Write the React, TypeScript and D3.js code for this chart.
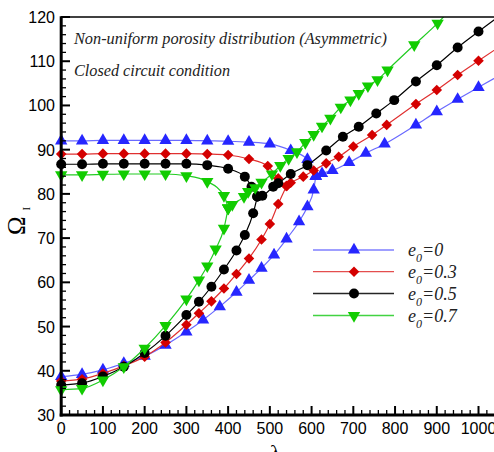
import React from "react";
import * as d3 from "d3";

// ---------- data ----------
const blueUpperL = [0, 50, 100, 150, 200, 250, 300, 350, 400, 450, 500, 550, 590, 610];
const blueUpperO = [92.0, 92.0, 92.1, 92.1, 92.1, 92.1, 92.1, 92.0, 91.9, 91.7, 91.3, 89.8, 87.8, 84.0];
const blueLowerL = [0, 50, 100, 150, 200, 250, 300, 340, 380, 420, 450, 480, 510, 540, 570, 590, 605, 610];
const blueLowerO = [38.7, 39.2, 40.2, 41.7, 43.3, 45.8, 48.8, 51.5, 54.5, 57.8, 60.5, 63.2, 66.2, 69.8, 73.7, 77.1, 80.9, 84.0];
const blueTailL = [610, 625, 650, 690, 730, 775, 850, 900, 950, 1000, 1060];
const blueTailO = [84.0, 84.6, 85.3, 87.1, 89.2, 91.3, 95.6, 98.6, 101.4, 104.1, 107.3];

const redUpperL = [0, 50, 100, 150, 200, 250, 300, 350, 400, 450, 495, 520, 540];
const redUpperO = [89.0, 89.0, 89.1, 89.1, 89.1, 89.1, 89.1, 89.0, 88.8, 87.9, 86.3, 83.5, 81.8];
const redLowerL = [0, 50, 100, 150, 200, 250, 300, 330, 360, 390, 420, 450, 480, 500, 520, 540];
const redLowerO = [37.7, 38.1, 39.4, 41.1, 43.2, 46.4, 50.4, 53.0, 55.7, 58.6, 61.9, 65.4, 69.7, 73.2, 77.7, 81.8];
const redTailL = [540, 550, 580, 605, 635, 665, 700, 745, 780, 850, 900, 950, 1000, 1060];
const redTailO = [81.8, 82.5, 83.9, 85.3, 86.9, 88.4, 90.7, 93.3, 95.6, 100.3, 103.5, 106.9, 110.1, 113.9];

const blackUpperL = [0, 50, 100, 150, 200, 250, 300, 350, 400, 440, 456, 470];
const blackUpperO = [86.7, 86.7, 86.8, 86.8, 86.8, 86.8, 86.8, 86.5, 85.7, 83.9, 81.6, 79.4];
const blackLowerL = [0, 50, 100, 150, 200, 250, 300, 330, 360, 390, 420, 440, 460, 470];
const blackLowerO = [36.8, 37.2, 38.7, 40.9, 44.0, 47.9, 52.6, 55.6, 59.0, 62.9, 67.2, 70.7, 75.6, 79.4];
const blackTailL = [470, 482, 508, 520, 550, 590, 635, 675, 713, 755, 798, 850, 900, 950, 1000, 1060];
const blackTailO = [79.4, 79.6, 81.6, 82.4, 84.5, 86.5, 89.8, 92.9, 95.2, 98.2, 101.2, 105.4, 109.1, 113.1, 116.7, 120.9];

const greenUpperL = [0, 50, 100, 150, 200, 250, 300, 350, 390, 400];
const greenUpperO = [84.3, 84.3, 84.4, 84.5, 84.5, 84.5, 84.1, 82.8, 79.6, 76.8];
const greenLowerL = [0, 50, 100, 150, 200, 250, 300, 330, 350, 370, 390, 400];
const greenLowerO = [35.7, 36.0, 37.9, 40.9, 45.1, 50.2, 56.2, 60.5, 63.7, 67.5, 72.2, 76.8];
const greenTailL = [400, 410, 438, 448, 465, 480, 505, 525, 545, 565, 585, 605, 625, 645, 670, 693, 713, 735, 758, 782, 846, 902, 940];
const greenTailO = [76.8, 77.6, 79.4, 80.5, 81.4, 82.6, 84.5, 86.4, 88.0, 89.5, 91.6, 93.4, 95.3, 97.1, 99.6, 101.2, 102.7, 104.4, 105.8, 108.0, 113.7, 118.6, 122.5];

const seriesLabels = ["0", "0.3", "0.5", "0.7"];
const xTicks = [0, 100, 200, 300, 400, 500, 600, 700, 800, 900, 1000];
const yTicks = [30, 40, 50, 60, 70, 80, 90, 100, 110, 120];

// ---------- styling ----------
const W = 494;
const H = 452;
const x = d3.scaleLinear().domain([0, 1040]).range([61.2, 495.2]);
const y = d3.scaleLinear().domain([30, 120]).range([415, 17]);

type Series = {
  branches: [number[], number[]][];
  line: string;
  fill: string;
  symbol: d3.SymbolType;
  size: number;
  rotate: number;
  label: string;
};

const series: Series[] = [
  {
    branches: [[blueUpperL, blueUpperO], [blueLowerL, blueLowerO], [blueTailL, blueTailO]],
    line: "#6a6aff", fill: "#2626ff", symbol: d3.symbolTriangle, size: 66, rotate: 0, label: seriesLabels[0],
  },
  {
    branches: [[redUpperL, redUpperO], [redLowerL, redLowerO], [redTailL, redTailO]],
    line: "#e03030", fill: "#d40000", symbol: d3.symbolSquare, size: 56, rotate: 45, label: seriesLabels[1],
  },
  {
    branches: [[blackUpperL, blackUpperO], [blackLowerL, blackLowerO], [blackTailL, blackTailO]],
    line: "#000000", fill: "#000000", symbol: d3.symbolCircle, size: 78, rotate: 0, label: seriesLabels[2],
  },
  {
    branches: [[greenUpperL, greenUpperO], [greenLowerL, greenLowerO], [greenTailL, greenTailO]],
    line: "#22cc22", fill: "#11cc00", symbol: d3.symbolTriangle, size: 66, rotate: 180, label: seriesLabels[3],
  },
];

const lineGen = d3
  .line<[number, number]>()
  .x((d) => x(d[0]))
  .y((d) => y(d[1]))
  .curve(d3.curveMonotoneX);

export default function App() {
  const xMinor = d3.range(0, 1041, 20);
  const yMinor = d3.range(30, 121, 2);
  const legendY = [250, 271.7, 293.5, 315.5];

  return (
    <svg width={W} height={H} style={{ position: "absolute", left: 0, top: 0, background: "#fff" }}>
      <defs>
        <clipPath id="plotClip">
          <rect x={0} y={17} width={495.2} height={440} />
        </clipPath>
      </defs>
      <rect x={0} y={0} width={W} height={H} fill="#fff" />

      {/* data */}
      <g clipPath="url(#plotClip)">
        {series.map((s, si) => (
          <g key={si}>
            {s.branches.map(([ls, os], bi) => {
              const pts: [number, number][] = ls.map((l, i) => [l, os[i]]);
              return (
                <g key={bi}>
                  <path d={lineGen(pts) || ""} fill="none" stroke={s.line} strokeWidth={1.2} />
                  {pts.map((p, i) => (
                    <path
                      key={i}
                      d={d3.symbol().type(s.symbol).size(s.size)() || ""}
                      transform={`translate(${x(p[0])},${y(p[1])}) rotate(${s.rotate})`}
                      fill={s.fill}
                    />
                  ))}
                </g>
              );
            })}
          </g>
        ))}
      </g>

      {/* frame */}
      <line x1={61.2} x2={W} y1={17} y2={17} stroke="#000" strokeWidth={1.5} />
      <line x1={61.2} x2={61.2} y1={16.3} y2={416.5} stroke="#000" strokeWidth={3} />
      <line x1={59.7} x2={W} y1={415} y2={415} stroke="#000" strokeWidth={3} />

      {/* ticks */}
      {yMinor.map((v) => (
        <line key={"ym" + v} x1={61.2} x2={v % 10 === 0 ? 70 : 66} y1={y(v)} y2={y(v)} stroke="#000" strokeWidth={v % 10 === 0 ? 2 : 1.3} />
      ))}
      {xMinor.map((v) => (
        <line key={"xm" + v} x1={x(v)} x2={x(v)} y1={415} y2={v % 100 === 0 ? 406 : 410} stroke="#000" strokeWidth={v % 100 === 0 ? 2 : 1.3} />
      ))}

      {/* tick labels */}
      <g fontFamily="'Liberation Sans', Arial, sans-serif" fontSize={16} fill="#000">
        {yTicks.map((v) => (
          <text key={"yl" + v} x={55} y={y(v) + 6} textAnchor="end">
            {v}
          </text>
        ))}
        {xTicks.map((v) => (
          <text key={"xl" + v} x={x(v)} y={433.5} textAnchor="middle">
            {v}
          </text>
        ))}
      </g>

      {/* axis titles */}
      <text
        transform="translate(25,235) rotate(-90)"
        fontFamily="'Liberation Serif', 'Times New Roman', serif"
        fontSize={25}
        fill="#000"
      >
        Ω
        <tspan fontSize={11} dx={6} dy={5}>I</tspan>
      </text>
      <text x={270} y={460} fontFamily="'Liberation Serif', 'Times New Roman', serif" fontSize={22} fill="#000">
        λ
        <tspan fontSize={11} dy={3}>I</tspan>
      </text>

      {/* annotations */}
      <g fontFamily="'Liberation Serif', 'Times New Roman', serif" fontStyle="italic" fill="#222">
        <text x={74} y={44} fontSize={16} textLength={313} lengthAdjust="spacingAndGlyphs">
          Non-uniform porosity distribution (Asymmetric)
        </text>
        <text x={74} y={76} fontSize={16} textLength={156} lengthAdjust="spacingAndGlyphs">
          Closed circuit condition
        </text>
      </g>

      {/* legend */}
      {series.map((s, i) => (
        <g key={"lg" + i}>
          <line x1={313} x2={394} y1={legendY[i]} y2={legendY[i]} stroke={s.line} strokeWidth={1.3} opacity={0.85} />
          <path
            d={d3.symbol().type(s.symbol).size(s.size)() || ""}
            transform={`translate(354,${legendY[i]}) rotate(${s.rotate})`}
            fill={s.fill}
          />
          <text
            x={408}
            y={legendY[i] + 6}
            fontFamily="'Liberation Serif', 'Times New Roman', serif"
            fontStyle="italic"
            fontSize={18}
            fill="#222"
          >
            e
            <tspan fontSize={12} dy={6}>0</tspan>
            <tspan dy={-6}>={s.label}</tspan>
          </text>
        </g>
      ))}
    </svg>
  );
}
